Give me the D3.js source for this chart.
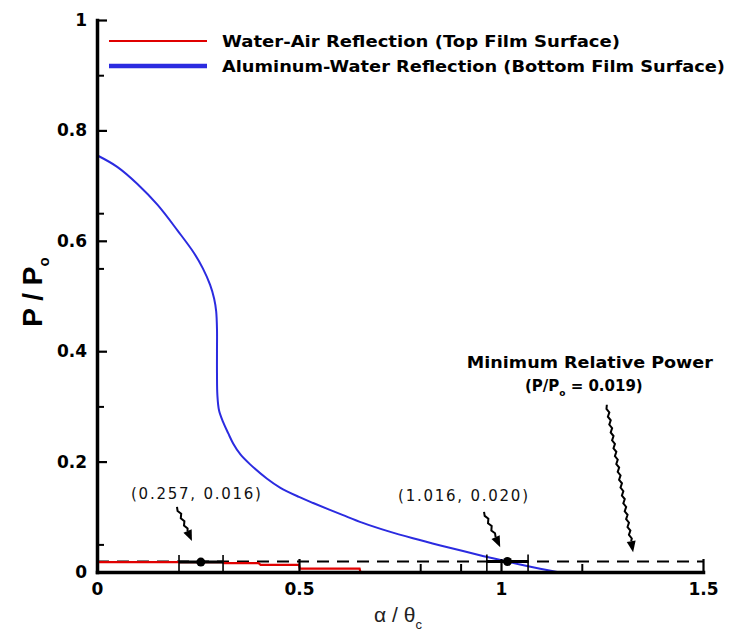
<!DOCTYPE html>
<html><head><meta charset="utf-8">
<script src="https://cdn.jsdelivr.net/npm/d3@7"></script>
<style>body{margin:0;background:#fff}svg{display:block}</style>
</head><body>
<script>
// ---- data ----
const blueX = [0,0.05,0.1,0.15,0.2,0.24,0.262,0.28,0.29,0.295,0.297,0.297,0.297,0.298,0.302,0.312,0.325,0.337,0.355,0.379,0.421,0.453,0.5,0.535,0.609,0.658,0.72,0.782,0.85,0.906,0.95,0.98,1.02,1.047,1.097,1.139];
const blueY = [0.755,0.734,0.703,0.665,0.618,0.578,0.550,0.520,0.495,0.472,0.44,0.40,0.36,0.32,0.293,0.272,0.251,0.233,0.213,0.195,0.169,0.153,0.136,0.125,0.103,0.089,0.074,0.061,0.048,0.038,0.030,0.025,0.018,0.0135,0.006,0.0];
const redX = [0,0.31,0.315,0.40,0.405,0.5,0.502,0.65,0.652];
const redY = [0.018,0.018,0.016,0.016,0.013,0.013,0.006,0.006,0.0];
const minPower = 0.019;
const pointX = [0.257,1.016];
const pointY = [0.018,0.019];
const errLow = [0.203,0.965];
const errHigh = [0.312,1.067];
const xMajor = [0,0.5,1,1.5];
const xMinor = [0.8,0.9,1.2];
const yMajor = [0,0.2,0.4,0.6,0.8,1];
const yMinor = [0.05,0.3,0.55,0.65,0.9];
const seriesNames = ["Water-Air Reflection (Top Film Surface)","Aluminum-Water Reflection (Bottom Film Surface)"];
const pointLabels = ["(0.257, 0.016)","(1.016, 0.020)"];
const labelPos = [[0.245,0.143],[0.906,0.139]];
const arrows = [[0.198,0.118,0.235,0.056],[0.958,0.109,0.998,0.045],[1.262,0.303,1.327,0.036]];

const W=730,H=634;
const svg=d3.select("body").append("svg").attr("width",W).attr("height",H);
const x=d3.scaleLinear().domain([0,1.5]).range([97,703]);
const y=d3.scaleLinear().domain([0,1]).range([572,20]);
const FONT="DejaVu Sans, Verdana, sans-serif";

// dashed min power line
const line=d3.line().x(d=>x(d[0])).y(d=>y(d[1]));
svg.append("path").attr("d",line([[0,minPower],[1.5,minPower]]))
  .attr("fill","none").attr("stroke","#000").attr("stroke-width",2).attr("stroke-dasharray","12,8");

// red series
svg.append("path").attr("d",line(redX.map((v,i)=>[v,redY[i]])))
  .attr("fill","none").attr("stroke","#e00000").attr("stroke-width",2.2);
// blue series
const smooth=d3.line().x(d=>x(d[0])).y(d=>y(d[1])).curve(d3.curveCatmullRom.alpha(0.5));
svg.append("path").attr("d",smooth(blueX.map((v,i)=>[v,blueY[i]])))
  .attr("fill","none").attr("stroke","#2b2be0").attr("stroke-width",2);

// error bars and points
pointX.forEach((px,i)=>{
  const g=svg.append("g");
  g.append("line").attr("x1",x(errLow[i])).attr("x2",x(errHigh[i])).attr("y1",y(pointY[i])).attr("y2",y(pointY[i]))
    .attr("stroke","#000").attr("stroke-width",3);
  [errLow[i],errHigh[i]].forEach(e=>{
    g.append("line").attr("x1",x(e)).attr("x2",x(e)).attr("y1",y(pointY[i])-7).attr("y2",y(0)+2)
      .attr("stroke","#000").attr("stroke-width",1.6);
  });
  g.append("circle").attr("cx",x(px)).attr("cy",y(pointY[i])).attr("r",4.5).attr("fill","#000");
});

// axes
const xAxis=svg.append("g").attr("transform",`translate(0,${y(0)})`)
  .call(d3.axisBottom(x).tickValues(xMajor).tickSize(-13).tickSizeOuter(0).tickPadding(11).tickFormat(d3.format("")));
const xAxisMinor=svg.append("g").attr("transform",`translate(0,${y(0)})`)
  .call(d3.axisBottom(x).tickValues(xMinor).tickSize(-8).tickSizeOuter(0).tickFormat(""));
const yAxis=svg.append("g").attr("transform",`translate(${x(0)},0)`)
  .call(d3.axisLeft(y).tickValues(yMajor).tickSize(-10).tickSizeOuter(0).tickPadding(10).tickFormat(d3.format("")));
const yAxisMinor=svg.append("g").attr("transform",`translate(${x(0)},0)`)
  .call(d3.axisLeft(y).tickValues(yMinor).tickSize(-7).tickSizeOuter(0).tickFormat(""));
[xAxis,yAxis].forEach(a=>{
  a.select(".domain").attr("stroke","#000").attr("stroke-width",3.5).attr("stroke-linecap","square");
  a.selectAll(".tick line").attr("stroke","#000").attr("stroke-width",2.2);
  a.selectAll(".tick text").attr("fill","#000").style("font-family",FONT).style("font-size","17px").style("font-weight","bold");
});
[xAxisMinor,yAxisMinor].forEach(a=>{
  a.select(".domain").remove();
  a.selectAll(".tick line").attr("stroke","#000").attr("stroke-width",2);
});

// axis titles
const yt=svg.append("text").attr("transform",`translate(42,${292}) rotate(-90)`).attr("text-anchor","middle")
  .style("font-family","Liberation Sans, Arial, sans-serif").style("font-size","28px").style("font-weight","bold");
yt.append("tspan").text("P / P");
yt.append("tspan").text("o").attr("dy",7).style("font-size","15px");
const xt=svg.append("text").attr("x",398).attr("y",622).attr("text-anchor","middle")
  .style("font-family","Liberation Sans, Arial, sans-serif").style("font-size","21px").attr("fill","#222");
xt.append("tspan").text("α / θ");
xt.append("tspan").text("c").attr("dy",7).style("font-size","13px");

// legend
const legColors=["#e00000","#2b2be0"],legWidths=[2,4.5],legTextLen=[398,503];
seriesNames.forEach((n,i)=>{
  const ly=41+i*25;
  svg.append("line").attr("x1",109).attr("x2",207).attr("y1",ly).attr("y2",ly).attr("stroke",legColors[i]).attr("stroke-width",legWidths[i]);
  svg.append("text").attr("x",222).attr("y",ly+6).text(n).attr("textLength",legTextLen[i]).attr("lengthAdjust","spacingAndGlyphs")
    .style("font-family",FONT).style("font-size","16px").style("font-weight","bold");
});

// point labels
pointLabels.forEach((t,i)=>{
  svg.append("text").attr("x",x(labelPos[i][0])).attr("y",y(labelPos[i][1])+6).attr("text-anchor","middle")
    .text(t).attr("textLength",130).attr("lengthAdjust","spacing")
    .style("font-family",FONT).style("font-size","15px").attr("fill","#111");
});
// min power label
svg.append("text").attr("x",x(1.22)).attr("y",y(0.38)+6).attr("text-anchor","middle")
  .text("Minimum Relative Power").attr("textLength",246).attr("lengthAdjust","spacingAndGlyphs")
  .style("font-family",FONT).style("font-size","15px").style("font-weight","bold");
const mp=svg.append("text").attr("x",x(1.205)).attr("y",y(0.339)+6).attr("text-anchor","middle")
  .style("font-family",FONT).style("font-size","15px").style("font-weight","bold");
mp.append("tspan").text("(P/P");
mp.append("tspan").text("o").attr("dy",5).style("font-size","9px");
mp.append("tspan").text(" = "+minPower.toFixed(3)+")").attr("dy",-5);

// wavy arrows
arrows.forEach(a=>{
  const x0=x(a[0]),y0=y(a[1]),x1=x(a[2]),y1=y(a[3]);
  const dx=x1-x0,dy=y1-y0,L=Math.hypot(dx,dy),ux=dx/L,uy=dy/L,nx=-uy,ny=ux;
  const head=11,pts=[];
  let k=0;
  for(let t=0;t<=L-head;t+=4,k++){
    const o=(k%2?1.1:-1.1)*(t===0?0:1);
    pts.push([x0+ux*t+nx*o,y0+uy*t+ny*o]);
  }
  pts.push([x1-ux*head,y1-uy*head]);
  svg.append("path").attr("d",d3.line()(pts)).attr("fill","none").attr("stroke","#000").attr("stroke-width",2);
  const bx=x1-ux*head,by=y1-uy*head;
  svg.append("path").attr("d",d3.line()([[x1,y1],[bx+nx*4.5,by+ny*4.5],[bx-nx*4.5,by-ny*4.5]])+"Z").attr("fill","#000");
});
</script>
</body></html>
